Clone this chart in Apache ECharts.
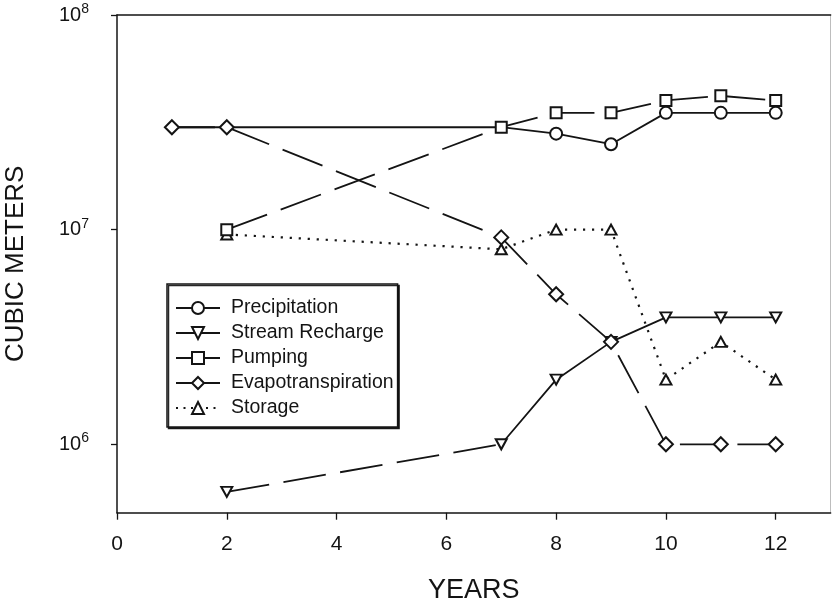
<!DOCTYPE html>
<html>
<head>
<meta charset="utf-8">
<script src="https://cdn.jsdelivr.net/npm/echarts@6/dist/echarts.min.js"></script>
<style>html,body{margin:0;padding:0;background:#fff}#c{width:832px;height:607px}</style>
</head>
<body>
<div id="c"></div>
<script>
// ---- data (values in cubic meters) ----
const precipYears = [1, 2, 7, 8, 9, 10, 11, 12];
const precipitation = [3.0e7, 3.0e7, 3.0e7, 2.8e7, 2.5e7, 3.5e7, 3.5e7, 3.5e7];
const streamYears = [2, 7, 8, 9, 10, 11, 12];
const streamRecharge = [6.0e5, 1.0e6, 2.0e6, 3.0e6, 3.9e6, 3.9e6, 3.9e6];
const pumpYears = [2, 7, 8, 9, 10, 11, 12];
const pumping = [1.0e7, 3.0e7, 3.5e7, 3.5e7, 4.0e7, 4.2e7, 4.0e7];
const evapoYears = [1, 2, 7, 8, 9, 10, 11, 12];
const evapotranspiration = [3.0e7, 3.0e7, 9.2e6, 5.0e6, 3.0e6, 1.0e6, 1.0e6, 1.0e6];
const storageYears = [2, 7, 8, 9, 10, 11, 12];
const storage = [9.5e6, 8.1e6, 1.0e7, 1.0e7, 2.0e6, 3.0e6, 2.0e6];
const xTickValues = [0, 2, 4, 6, 8, 10, 12];
const yTickExponents = [6, 7, 8];
const yMinValue = 4.8e5;
const yMaxValue = 1e8;
const legendNames = ['Precipitation', 'Stream Recharge', 'Pumping', 'Evapotranspiration', 'Storage'];

// ---- helpers ----
const L = v => Math.log10(v);
const pairs = (xs, ys) => xs.map((x, i) => [x, L(ys[i])]);
const INK = '#141414';
const FONT = '"Liberation Sans", Arial, Helvetica, sans-serif';
const DASH = [43, 14.5];
const DOT = [2.2, 6.8];

function lineSeries(name, data, symbol, size, type, extra, width) {
  return Object.assign({
    name: name,
    type: 'line',
    data: data,
    symbol: symbol,
    symbolSize: size,
    showSymbol: true,
    showAllSymbol: true,
    animation: false,
    lineStyle: { color: INK, width: width || 1.8, type: type },
    itemStyle: { color: INK, borderColor: INK, borderWidth: 1.6 },
    emphasis: { disabled: true }
  }, extra || {});
}

// precipitation markers at years 1, 2, 7 are hidden under other markers
const precipData = pairs(precipYears, precipitation).map((p, i) =>
  i < 3 ? { value: p, symbol: 'none' } : p);
const streamAll = pairs(streamYears, streamRecharge);
const streamSolid = streamAll.slice(1);
const streamDashed = streamAll.slice(0, 2).map((p, i) => i === 1 ? { value: p, symbol: 'none' } : p);

const series = [
  lineSeries('Storage', pairs(storageYears, storage), 'emptyTriangle', [11, 10], DOT, {}, 2.2),
  lineSeries('Precipitation', precipData, 'emptyCircle', 12, 'solid', {}),
  lineSeries('Stream Recharge', streamSolid, 'emptyTriangle', [11, 10], 'solid', { symbolRotate: 180 }),
  lineSeries('Stream Recharge', streamDashed, 'emptyTriangle', [11, 10], DASH, { symbolRotate: 180 }),
  lineSeries('Pumping', pairs(pumpYears, pumping), 'emptyRect', 11, DASH, {}),
  lineSeries('Evapotranspiration', pairs(evapoYears, evapotranspiration), 'emptyDiamond', 14, DASH, {})
];

const chart = echarts.init(document.getElementById('c'), null, { renderer: 'canvas' });
chart.setOption({
  backgroundColor: '#fff',
  animation: false,
  textStyle: { fontFamily: FONT, color: INK },
  grid: { left: 117, right: 1.4, top: 15, bottom: 94.3, containLabel: false, outerBoundsMode: 'none' },
  legend: {
    orient: 'vertical',
    left: 167,
    top: 284,
    padding: [14, 4, 9, 8],
    itemWidth: 44,
    itemHeight: 15,
    itemGap: 5,
    backgroundColor: '#fff',
    borderColor: INK,
    borderWidth: 1.5,
    borderRadius: 0,
    shadowColor: 'rgba(0,0,0,0.85)',
    shadowBlur: 0,
    shadowOffsetX: 1.5,
    shadowOffsetY: 1.5,
    selectedMode: false,
    textStyle: { fontFamily: FONT, fontSize: 19.5, lineHeight: 20, color: INK, padding: [0, 0, 0, 6] },
    data: legendNames.map(n => ({
      name: n,
      lineStyle: { type: n === 'Storage' ? [2, 5.5] : 'solid' }
    }))
  },
  xAxis: [{
    type: 'value',
    min: 0,
    max: 13,
    name: 'YEARS',
    nameLocation: 'middle',
    nameGap: 64,
    nameTextStyle: { fontFamily: FONT, fontSize: 27, color: INK },
    axisLine: { show: true, onZero: false, lineStyle: { color: INK, width: 1.5 } },
    axisTick: { show: true, inside: false, length: 7, customValues: xTickValues, lineStyle: { color: INK, width: 1.3 } },
    axisLabel: { show: true, margin: 21, fontSize: 21, color: INK, fontFamily: FONT, customValues: xTickValues },
    splitLine: { show: false }
  }, {
    type: 'value',
    position: 'top',
    min: 0,
    max: 13,
    axisLine: { show: true, onZero: false, lineStyle: { color: INK, width: 1.5 } },
    axisTick: { show: false },
    axisLabel: { show: false },
    splitLine: { show: false }
  }],
  yAxis: [{
    type: 'value',
    min: L(yMinValue),
    max: L(yMaxValue),
    name: 'CUBIC METERS',
    nameLocation: 'middle',
    nameGap: 88,
    nameTextStyle: { fontFamily: FONT, fontSize: 26, color: INK },
    axisLine: { show: true, onZero: false, lineStyle: { color: INK, width: 1.5 } },
    axisTick: { show: true, inside: false, length: 6, customValues: yTickExponents, lineStyle: { color: INK, width: 1.3 } },
    axisLabel: {
      show: true,
      margin: 28,
      customValues: yTickExponents,
      formatter: v => '{b|10}{s|' + Math.round(v) + '}',
      rich: {
        b: { fontFamily: FONT, fontSize: 20, lineHeight: 26, color: INK },
        s: { fontFamily: FONT, fontSize: 14, lineHeight: 13, verticalAlign: 'top', color: INK }
      }
    },
    splitLine: { show: false }
  }, {
    type: 'value',
    position: 'right',
    min: L(yMinValue),
    max: L(yMaxValue),
    axisLine: { show: true, onZero: false, lineStyle: { color: '#bdbdbd', width: 1 } },
    axisTick: { show: false },
    axisLabel: { show: false },
    splitLine: { show: false }
  }],
  series: series
});
</script>
</body>
</html>
